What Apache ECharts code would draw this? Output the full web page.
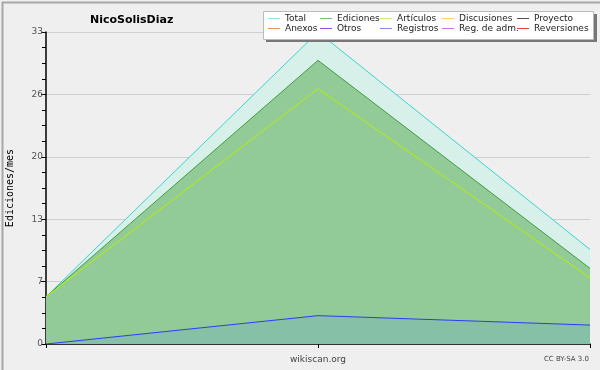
<!DOCTYPE html>
<html><head><meta charset="utf-8">
<script src="https://cdn.jsdelivr.net/npm/echarts@6/dist/echarts.min.js"></script>
<style>html,body{margin:0;padding:0;background:#efeff0}#c{width:600px;height:370px}</style>
</head><body><div id="c"></div>
<script>
const categories = ['a', 'b', 'c'];
const total = [5, 33, 10];
const ediciones = [5, 30, 8];
const articulos = [5, 27, 7];
const registros = [0, 3, 2];
const legendNames = ['Total','Ediciones','Artículos','Discusiones','Proyecto','Anexos','Otros','Registros','Reg. de adm.','Reversiones'];
const legendColors = ['#a6e4e4','#78c078','#c4ee6c','#f0d470','#505050','#f09060','#9050e0','#8888f0','#c878e0','#e04444'];

const chart = echarts.init(document.getElementById('c'));
const colX = [268, 320, 380, 442, 517];
const legends = legendNames.map((n, i) => ({
  left: colX[i % 5], top: i < 5 ? 14 : 24, padding: 0, itemWidth: 12, itemHeight: 1, icon: 'rect',
  textStyle: { fontFamily: 'DejaVu Sans', fontSize: 9, color: '#222' },
  data: [{ name: n, itemStyle: { color: legendColors[i] } }],
  selectedMode: false, z: 20
}));
const seriesMap = {
  'Total': { data: total, line: '#38d4d0', area: '#d8f0ea', z: 1 },
  'Ediciones': { data: ediciones, line: '#40a040', area: '#92cb97', z: 2 },
  'Registros': { data: registros, line: '#2c3cf8', area: '#86c0a6', z: 3 },
  'Artículos': { data: articulos, line: '#b8f000', area: null, z: 4 }
};
const series = legendNames.map((n, i) => {
  const s = seriesMap[n];
  return {
    name: n, type: 'line', data: s ? s.data : [], symbol: 'none', z: s ? s.z : 0,
    color: legendColors[i],
    lineStyle: { color: s ? s.line : legendColors[i], width: 1 },
    areaStyle: s && s.area ? { color: s.area, opacity: 1 } : undefined,
    animation: false
  };
});
chart.setOption({
  backgroundColor: '#efeff0',
  animation: false,
  title: { text: 'NicoSolisDiaz', left: 85, top: 10, textStyle: { fontFamily: 'DejaVu Sans', fontSize: 11, fontWeight: 'bold', color: '#000' } },
  legend: legends,
  grid: { left: 46, right: 10, top: 32, bottom: 26, outerBoundsMode: 'none', containLabel: false },
  xAxis: {
    type: 'category', data: categories, boundaryGap: false,
    name: 'wikiscan.org', nameLocation: 'middle', nameGap: 11,
    nameTextStyle: { fontFamily: 'DejaVu Sans', fontSize: 9, color: '#444' },
    axisLine: { lineStyle: { color: '#000', width: 1.5 } },
    axisTick: { show: true, length: 4, lineStyle: { color: '#000' } },
    axisLabel: { show: false }, splitLine: { show: false }
  },
  yAxis: {
    type: 'value', min: 0, max: 33, interval: 6.6,
    name: 'Ediciones/mes', nameLocation: 'middle', nameGap: 31,
    nameTextStyle: { fontFamily: 'DejaVu Sans Mono', fontSize: 10, color: '#000' },
    axisLine: { show: true, lineStyle: { color: '#000', width: 1.5 } },
    axisTick: { show: true, length: 5, lineStyle: { color: '#000' } },
    minorTick: { show: true, splitNumber: 4, length: 4, lineStyle: { color: '#000' } },
    axisLabel: { fontFamily: 'DejaVu Sans', fontSize: 9, color: '#555', margin: 3,
      formatter: v => String(Math.round(v)) },
    splitLine: { show: true, lineStyle: { color: '#cfcfcf', width: 1 } }
  },
  graphic: [
    { type: 'rect', left: 0, top: 0, shape: { width: 599, height: 369 }, style: { fill: 'none', stroke: '#a8a8a8', lineWidth: 2 }, z: 100 },
    { type: 'rect', left: 266, top: 14, shape: { width: 331, height: 28 }, style: { fill: '#777' }, z: 10 },
    { type: 'rect', left: 263, top: 11, shape: { width: 330, height: 28 }, style: { fill: '#fff', stroke: '#bbb', lineWidth: 1 }, z: 11 },
    { type: 'text', right: 11, top: 356, style: { text: 'CC BY-SA 3.0', font: '7px DejaVu Sans', fill: '#444' }, z: 10 }
  ],
  series: series
});
</script></body></html>
